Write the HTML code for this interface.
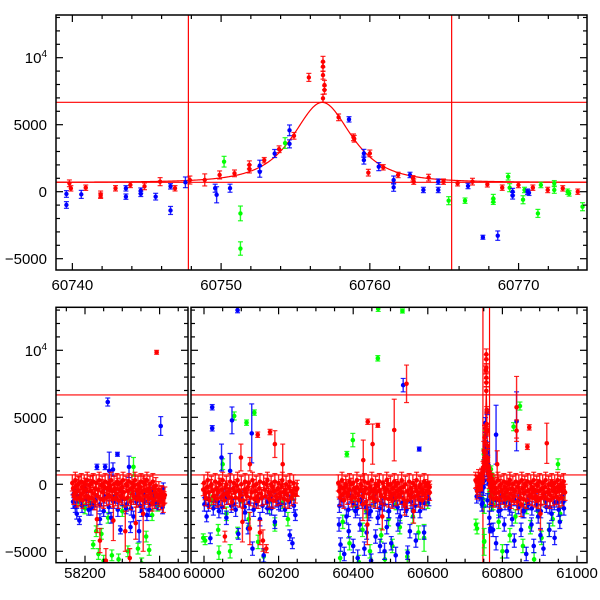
<!DOCTYPE html>
<html><head><meta charset="utf-8">
<style>
html,body{margin:0;padding:0;background:#fff;}
svg{display:block;font-family:"Liberation Sans",Arial,sans-serif;}
</style></head>
<body>
<svg id="chart" width="600" height="600" viewBox="0 0 600 600" xmlns="http://www.w3.org/2000/svg">
<defs>
<clipPath id="clipT"><rect x="56" y="15" width="531" height="255"/></clipPath>
<clipPath id="clipA"><rect x="56" y="307.3" width="132" height="255.4"/></clipPath>
<clipPath id="clipB"><rect x="191" y="307.3" width="396" height="255.4"/></clipPath>
</defs>
<g id="marksT" clip-path="url(#clipT)"></g>
<g id="marksA" clip-path="url(#clipA)"></g>
<g id="marksB" clip-path="url(#clipB)"></g>
<g id="axes"></g>
</svg>
<script>
// ---- data: [mjd, flux, err] ----
const topRed = [[60739.8,627,250],[60739.9,250,200],[60740.9,298,200],[60741.9,-200,250],[60741.9,-300,200],[60742.9,254,200],[60743.9,508,200],[60744.85,400,250],[60745.9,750,300],[60746.9,254,200],[60747.9,870,300],[60748.9,880,450],[60749.9,1250,300],[60750.9,1370,250],[60751.9,1700,300],[60751.9,2000,300],[60752.9,2350,200],[60753.9,3170,250],[60754.9,4170,250],[60755.9,8530,300],[60756.85,9700,400],[60756.85,9330,350],[60756.85,8700,300],[60756.95,7960,350],[60756.95,7590,300],[60756.85,6970,300],[60757.9,5550,250],[60758.9,4060,250],[60758.95,3950,250],[60760.0,2860,250],[60759.9,1420,250],[60760.9,1820,200],[60761.9,1250,200],[60762.9,1000,200],[60762.95,750,200],[60763.95,1050,250],[60764.95,750,200],[60765.9,630,200],[60766.9,750,250],[60767.9,550,200],[60768.9,300,200],[60769.99,500,200],[60770.96,300,200],[60771.96,130,200],[60772.97,250,200],[60773.98,0,200]];
const topBlue = [[60739.6,-170,250],[60739.6,-990,250],[60740.6,-200,300],[60743.6,250,200],[60743.6,-370,200],[60744.6,80,200],[60744.6,-160,200],[60745.6,-370,250],[60746.6,-1400,300],[60746.6,400,200],[60747.6,700,400],[60749.6,260,300],[60749.7,-230,600],[60750.6,260,300],[60752.6,1950,400],[60752.6,1480,400],[60753.6,2850,300],[60754.6,3570,300],[60754.6,4580,400],[60758.6,5400,200],[60759.6,2860,300],[60759.6,2360,300],[60760.6,1870,300],[60761.6,870,300],[60761.6,330,300],[60762.7,1250,200],[60763.6,130,200],[60764.6,750,200],[60764.6,130,200],[60766.6,425,200],[60767.6,-3400,150],[60768.6,-3280,350],[60769.6,0,250],[60769.6,-300,250],[60770.6,0,200],[60770.7,-80,200]];
const topGreen = [[60750.2,2240,400],[60751.3,-1620,550],[60751.3,-4240,500],[60754.3,3630,400],[60765.3,-670,300],[60766.4,-670,200],[60768.3,-500,300],[60768.3,-750,200],[60769.3,1120,250],[60769.4,300,300],[60770.3,-600,300],[60770.4,130,200],[60771.3,-1620,300],[60771.5,500,200],[60772.4,630,200],[60772.4,130,250],[60773.3,0,200],[60773.4,-130,200],[60774.3,-1120,300]];

const botRed = [
[58168,-300,450],[58172,-700,450],[58176,-100,450],[58180,-500,450],[58184,100,450],[58188,-800,450],[58192,-200,450],[58196,-600,450],[58200,0,450],[58204,-400,450],[58208,-900,450],[58212,-100,450],[58216,-500,450],[58220,200,450],[58224,-700,450],[58228,-300,450],[58232,-2600,1000],[58236,-400,450],[58240,-4200,900],[58244,-100,450],[58248,-600,450],[58252,-200,450],[58256,-5700,900],[58260,-300,450],[58264,-800,450],[58268,-100,450],[58272,-500,450],[58276,-2700,1500],[58280,-300,450],[58284,-700,450],[58288,0,450],[58292,-400,450],[58296,-900,450],[58300,-200,450],[58304,-600,450],[58308,-3500,1500],[58312,-100,450],[58316,-500,450],[58320,-5500,700],[58324,-300,450],[58328,-700,450],[58332,-100,450],[58336,-2900,1200],[58340,-400,450],[58344,-800,450],[58348,-200,450],[58352,-600,450],[58356,-2200,2800],[58360,0,450],[58364,-500,450],[58368,-900,450],[58372,-300,450],[58376,-700,450],[58380,-1400,600],[58384,-200,450],[58388,-600,450],[58392,9850,150],[58396,-800,450],[58400,-1200,450],[58404,-600,450],[58408,-900,450],[58412,-1000,450],
[59998,-400,450],[60003,-700,450],[60008,-200,450],[60013,-600,450],[60018,-100,450],[60023,-500,450],[60028,-900,450],[60033,-300,450],[60038,-600,450],[60043,0,450],[60048,-400,450],[60053,-800,450],[60056,-3900,400],[60058,-200,450],[60063,-700,450],[60068,-500,450],[60073,-1000,450],[60078,-300,450],[60083,-600,450],[60088,-100,450],[60093,-500,450],[60098,-800,450],[60099,2000,1000],[60103,-2800,1500],[60108,-400,450],[60113,-700,450],[60118,-200,450],[60123,1500,500],[60123,-3300,1200],[60128,-600,450],[60133,-100,450],[60138,-500,450],[60143,-900,450],[60144,3700,200],[60148,-300,450],[60150,-3600,900],[60153,-700,450],[60158,-4200,800],[60163,-400,450],[60167,-4800,300],[60168,0,450],[60173,-600,450],[60177,3900,200],[60178,-800,450],[60183,-200,450],[60188,-500,450],[60190,3000,1000],[60193,-900,450],[60198,-300,450],[60203,-700,450],[60208,-100,450],[60211,1500,1500],[60213,-600,450],[60218,-400,450],[60223,-800,450],[60228,-200,450],[60233,-500,450],[60238,-700,450],[60243,-300,450],[60248,-400,450],
[60362,-500,450],[60366,-200,450],[60370,-800,450],[60374,-300,450],[60378,-600,450],[60382,-100,450],[60386,-700,450],[60390,-400,450],[60394,0,450],[60398,-900,450],[60402,-300,450],[60406,-600,450],[60410,-200,450],[60414,-800,450],[60418,-400,450],[60422,-100,450],[60426,-1500,1200],[60427,1800,1500],[60430,-600,450],[60434,-300,450],[60438,-3000,1500],[60439,4670,200],[60442,-700,450],[60446,-200,450],[60450,-500,450],[60452,3000,1500],[60454,-900,450],[60458,-300,450],[60462,-600,450],[60466,4400,150],[60466,-100,450],[60470,-500,450],[60474,-800,450],[60478,-2400,1000],[60482,-200,450],[60486,-700,450],[60490,-400,450],[60494,0,450],[60498,-600,450],[60502,-900,450],[60506,-300,450],[60510,4050,2300],[60510,-700,450],[60514,-100,450],[60518,-500,450],[60522,-800,450],[60526,-300,450],[60530,-600,450],[60534,-200,450],[60538,-1500,800],[60543,7500,1400],[60546,-500,450],[60550,-800,450],[60554,-300,450],[60558,-600,450],[60562,-2000,900],[60566,-100,450],[60570,-500,450],[60574,-800,450],[60578,-200,450],[60582,-600,450],[60586,-400,450],[60590,-700,450],[60594,-100,450],[60598,-500,450],[60602,-300,450],[60605,-200,450],
[60730,200,450],[60734,-300,450],[60738,400,450],[60742,100,450],[60746,500,450],[60748,1200,500],[60750,2500,700],[60752,3500,900],[60753,1500,500],[60758,4500,900],[60760,2000,600],[60762,800,450],[60766,-100,450],[60770,-500,450],[60774,-200,450],[60778,-700,450],[60782,-300,450],[60786,1500,1000],[60790,-600,450],[60794,-100,450],[60798,-500,450],[60802,-800,450],[60806,-200,450],[60810,-600,450],[60814,-400,450],[60818,0,450],[60822,-700,450],[60826,-300,450],[60830,-900,450],[60834,-500,450],[60838,5750,2300],[60838,4000,800],[60842,-200,450],[60846,-600,450],[60850,-1500,900],[60854,-300,450],[60858,-700,450],[60862,-100,450],[60867,2800,200],[60868,-500,450],[60872,4250,200],[60874,-800,450],[60878,-200,450],[60882,-600,450],[60886,-400,450],[60890,-900,450],[60894,-100,450],[60898,-500,450],[60902,-2200,1200],[60906,-300,450],[60910,-700,450],[60914,-200,450],[60919,3060,1500],[60920,-600,450],[60924,-400,450],[60928,-800,450],[60932,-100,450],[60936,-500,450],[60940,-300,450],[60944,-600,450],[60948,-200,450],[60952,-400,450],[60956,-100,450],[60960,-300,450],[60964,-200,450]
];
// second (denser) red band measurements
const botRed2 = [
[58166,100,600],[58170,-900,600],[58174,300,600],[58178,-1100,600],[58182,0,600],[58186,-1000,600],[58190,200,600],[58194,-1200,600],[58198,100,600],[58202,-900,600],[58206,300,600],[58210,-1100,600],[58214,0,600],[58218,-1000,600],[58222,200,600],[58226,-1300,600],[58230,100,600],[58234,-900,600],[58238,300,600],[58242,-1100,600],[58246,0,600],[58250,-1200,600],[58254,200,600],[58258,-1000,600],[58262,100,600],[58266,-900,600],[58270,300,600],[58274,-1100,600],[58278,0,600],[58282,-1000,600],[58286,200,600],[58290,-1200,600],[58294,100,600],[58298,-900,600],[58302,300,600],[58306,-1100,600],[58310,0,600],[58314,-1000,600],[58318,200,600],[58322,-1300,600],[58326,100,600],[58330,-900,600],[58334,300,600],[58338,-1100,600],[58342,0,600],[58346,-1000,600],[58350,200,600],[58354,-1200,600],[58358,100,600],[58362,-900,600],[58366,300,600],[58370,-1100,600],[58374,0,600],[58378,-1000,600],[58382,200,600],[58386,-1200,600],[58390,-100,600],[58394,-900,600],[58398,-400,600],[58402,-1300,600],[58406,-700,600],[58410,-1500,600],[58414,-800,600],
[60000,100,600],[60005,-1000,600],[60010,300,600],[60015,-1200,600],[60020,0,600],[60025,-900,600],[60030,200,600],[60035,-1100,600],[60040,100,600],[60045,-1000,600],[60050,300,600],[60055,-1200,600],[60060,0,600],[60065,-900,600],[60070,200,600],[60075,-1300,600],[60080,100,600],[60085,-1000,600],[60090,300,600],[60095,-1100,600],[60100,0,600],[60105,-1200,600],[60110,200,600],[60115,-900,600],[60120,100,600],[60125,-1000,600],[60130,300,600],[60135,-1100,600],[60140,0,600],[60145,-1200,600],[60150,200,600],[60155,-1000,600],[60160,100,600],[60165,-900,600],[60170,300,600],[60175,-1100,600],[60180,0,600],[60185,-1200,600],[60190,200,600],[60195,-1000,600],[60200,100,600],[60205,-900,600],[60210,300,600],[60215,-1100,600],[60220,0,600],[60225,-1200,600],[60230,200,600],[60235,-1000,600],[60240,100,600],[60245,-800,600],[60250,-300,600],
[60360,100,600],[60365,-1000,600],[60370,300,600],[60375,-1200,600],[60380,0,600],[60385,-900,600],[60390,200,600],[60395,-1100,600],[60400,100,600],[60405,-1000,600],[60410,300,600],[60415,-1200,600],[60420,0,600],[60425,-900,600],[60430,200,600],[60435,-1300,600],[60440,100,600],[60445,-1000,600],[60450,300,600],[60455,-1100,600],[60460,0,600],[60465,-1200,600],[60470,200,600],[60475,-900,600],[60480,100,600],[60485,-1000,600],[60490,300,600],[60495,-1100,600],[60500,0,600],[60505,-1200,600],[60510,200,600],[60515,-1000,600],[60520,100,600],[60525,-900,600],[60530,300,600],[60535,-1100,600],[60540,0,600],[60545,-1200,600],[60550,200,600],[60555,-1000,600],[60560,100,600],[60565,-900,600],[60570,300,600],[60575,-1100,600],[60580,0,600],[60585,-1200,600],[60590,200,600],[60595,-1000,600],[60600,100,600],[60605,-600,600],
[60728,300,600],[60732,-500,600],[60736,500,600],[60740,-300,600],[60744,600,600],[60764,300,600],[60768,-900,600],[60772,200,600],[60776,-1100,600],[60780,100,600],[60784,-1000,600],[60788,300,600],[60792,-1200,600],[60796,0,600],[60800,-900,600],[60804,200,600],[60808,-1100,600],[60812,100,600],[60816,-1000,600],[60820,300,600],[60824,-1200,600],[60828,0,600],[60832,-900,600],[60836,200,600],[60840,-1300,600],[60844,100,600],[60848,-1000,600],[60852,300,600],[60856,-1100,600],[60860,0,600],[60864,-1200,600],[60868,200,600],[60872,-900,600],[60876,100,600],[60880,-1000,600],[60884,300,600],[60888,-1100,600],[60892,0,600],[60896,-1200,600],[60900,200,600],[60904,-1000,600],[60908,100,600],[60912,-900,600],[60916,300,600],[60920,-1100,600],[60924,0,600],[60928,-1200,600],[60932,200,600],[60936,-1000,600],[60940,100,600],[60944,-900,600],[60948,300,600],[60952,-1100,600],[60956,0,600],[60960,-1000,600],[60964,200,600],[60968,-600,600]
];
const botBlue = [
[58170,-700,300],[58174,-1700,400],[58178,-2200,400],[58185,-2700,300],[58190,-1200,400],[58200,-300,300],[58210,-1900,400],[58222,-1500,400],[58232,1300,200],[58240,-2600,400],[58250,-2000,400],[58254,1300,200],[58261,6140,300],[58265,1000,1400],[58270,-2500,400],[58275,1100,500],[58283,-1000,400],[58287,2240,150],[58295,-3400,300],[58300,-600,400],[58310,-1800,400],[58318,1300,800],[58322,-3200,400],[58330,-2400,400],[58338,-1300,400],[58345,-3500,800],[58352,-2000,400],[58360,-800,400],[58366,-2300,400],[58374,-1500,400],[58380,-600,400],[58390,-1400,400],[58403,4350,700],[58406,-1000,400],[58410,-300,400],
[60003,-1000,400],[60007,-2400,400],[60012,-1600,400],[60017,-4030,400],[60022,5750,200],[60022,4180,200],[60030,-1200,400],[60040,-2000,500],[60047,2000,1000],[60052,-800,400],[60060,-2500,500],[60070,1000,1300],[60075,4770,1000],[60080,-1500,400],[60090,13000,200],[60092,-3700,400],[60100,-900,400],[60110,-2100,600],[60118,-3300,400],[60128,3800,2200],[60130,-4800,500],[60140,-1400,400],[60150,-2600,500],[60160,-5300,500],[60170,-1800,400],[60180,-900,400],[60190,-2800,500],[60200,-1500,400],[60215,-1100,400],[60230,-3800,400],[60237,-4400,400],[60245,-2300,400],
[60362,-3000,500],[60366,-4500,500],[60370,-1200,400],[60376,-5200,500],[60382,-2400,500],[60388,-3500,500],[60394,-900,400],[60400,-4600,500],[60406,-2000,500],[60412,-5500,600],[60418,-3000,500],[60424,-1400,400],[60430,-4800,500],[60436,-3600,500],[60442,-2200,500],[60448,-5700,500],[60454,-1000,400],[60460,-3900,500],[60466,-2500,500],[60472,-4600,500],[60478,-1500,400],[60484,-5000,600],[60490,-3200,500],[60496,-2000,500],[60502,-4400,500],[60508,-1200,400],[60514,-5300,600],[60520,-3000,500],[60526,-2400,500],[60534,7400,500],[60540,-1700,400],[60546,-5100,500],[60552,-3500,500],[60560,-2000,500],[60568,-4200,500],[60577,2630,150],[60580,-1300,400],[60590,-3600,500],[60600,-1000,400],
[60740,-500,400],[60745,-1500,500],[60760,-1200,500],[60765,-2500,500],[60775,-3400,500],[60783,3700,2200],[60783,-4400,500],[60790,-2000,500],[60797,-900,400],[60805,-3000,500],[60812,-5000,500],[60820,-1600,400],[60826,-2600,500],[60832,-4200,500],[60838,4700,2200],[60842,-1200,400],[60850,-3400,500],[60858,-2000,500],[60864,-5200,500],[60870,-1500,400],[60878,-3000,500],[60884,-4600,500],[60890,-1100,400],[60896,-2400,500],[60902,-3800,500],[60910,-4800,500],[60918,-1700,400],[60926,-3400,500],[60932,-2200,500],[60940,-4000,500],[60946,-1300,400],[60954,-2800,500],[60960,-900,400],[60965,-1800,500]
];
// blue measurements in the dense band
const botBlue2 = [
[58168,-1300,500],[58180,-900,500],[58192,-1600,500],[58204,-1100,500],[58216,-1800,500],[58228,-1200,500],[58240,-1500,500],[58252,-900,500],[58264,-1700,500],[58276,-1300,500],[58288,-1900,500],[58300,-1100,500],[58312,-1500,500],[58324,-1800,500],[58336,-1000,500],[58348,-1600,500],[58360,-1300,500],[58372,-1900,500],[58384,-1100,500],[58396,-1400,500],[58408,-1700,500],
[60001,-1500,500],[60013,-1100,500],[60025,-1800,500],[60037,-1300,500],[60049,-1700,500],[60061,-1000,500],[60073,-1600,500],[60085,-1900,500],[60097,-1200,500],[60109,-1700,500],[60121,-1400,500],[60133,-1900,500],[60145,-1100,500],[60157,-1600,500],[60169,-1300,500],[60181,-1800,500],[60193,-1200,500],[60205,-1500,500],[60217,-1900,500],[60229,-1300,500],[60241,-1600,500],
[60363,-1600,500],[60375,-1200,500],[60387,-1900,500],[60399,-1400,500],[60411,-1800,500],[60423,-1100,500],[60435,-1700,500],[60447,-2000,500],[60459,-1300,500],[60471,-1800,500],[60483,-1500,500],[60495,-2000,500],[60507,-1200,500],[60519,-1700,500],[60531,-1400,500],[60543,-1900,500],[60555,-1300,500],[60567,-1600,500],[60579,-2000,500],[60591,-1400,500],[60603,-1100,500],
[60731,-900,500],[60771,-1500,500],[60783,-1200,500],[60795,-1900,500],[60807,-1400,500],[60819,-1800,500],[60831,-1100,500],[60843,-1700,500],[60855,-2000,500],[60867,-1300,500],[60879,-1800,500],[60891,-1500,500],[60903,-2000,500],[60915,-1200,500],[60927,-1700,500],[60939,-1400,500],[60951,-1900,500],[60963,-1300,500]
];
const botGreen = [
[58182,-1200,400],[58200,-1800,400],[58215,-1400,400],[58222,-4500,300],[58230,-3500,400],[58236,-5200,400],[58244,-3700,400],[58250,-5700,400],[58262,-2500,400],[58272,-5300,400],[58280,-1000,400],[58290,-5600,400],[58300,-2000,400],[58315,-5000,400],[58322,-1200,600],[58330,1300,700],[58342,-4800,400],[58352,-5900,400],[58364,-3900,400],[58372,-4900,400],[58380,-2300,400],[58388,-800,400],[58395,-1600,400],
[59998,-4000,300],[60003,-4200,300],[60020,-1200,400],[60038,-3400,400],[60040,-5100,500],[60050,1500,400],[60060,-2200,500],[60070,-5000,500],[60081,5100,300],[60090,-3600,400],[60100,-1000,400],[60114,4600,200],[60120,-2600,500],[60135,5350,200],[60145,-4300,500],[60160,-5400,500],[60175,-1800,400],[60190,-3000,500],[60210,-1400,400],[60225,-2600,500],[60240,-800,400],
[60365,-5500,500],[60372,-2800,500],[60383,2250,200],[60390,-4400,500],[60399,3300,500],[60405,-1600,400],[60415,-5800,500],[60425,-3400,500],[60435,-2000,500],[60445,-5000,500],[60455,-1200,400],[60466,9400,200],[60467,13100,200],[60475,-3800,500],[60485,-5600,500],[60495,-2600,500],[60505,-4600,500],[60515,-1500,400],[60525,-3200,500],[60532,12930,150],[60545,-5400,500],[60560,-2400,500],[60575,-3600,500],[60590,-4000,1000],[60600,-1400,400],
[60729,-3000,400],[60732,-3300,400],[60745,-1000,500],[60751,-4300,1000],[60775,-1500,400],[60790,-2800,500],[60800,-5000,500],[60810,-1200,400],[60820,-3800,500],[60830,4300,300],[60835,-2400,500],[60847,5840,300],[60855,-4600,500],[60865,-1800,400],[60875,-3200,500],[60885,-5600,500],[60895,-2000,500],[60905,-4000,500],[60915,-1300,400],[60925,-3400,500],[60935,-2600,500],[60949,1500,400],[60955,-2200,500],[60962,-1000,400]
];
// model (Paczynski) parameters
const model = {t0:60756.8, tE:2.5, u0:1.0, base:700, amp:17460};
const hLines = [6670, 700];
const vLines = [60747.8, 60765.5];
const topXTicks = [60740, 60750, 60760, 60770];
const botXTicksA = [58200, 58400];
const botXTicksB = [60000, 60200, 60400, 60600, 60800, 61000];
const yTicks = [-5000, 0, 5000, 10000];

// ---- scales ----
const xT = m => 56 + (m - 60738.9) * (531 / 35.7);
const yT = f => 191.7 - f * 0.0134;
const xA = m => 85 + (m - 58200) * 0.373;
const xB = m => 204 + (m - 60000) * 0.373;
const yB = f => 484.3 - f * 0.0134;
const NS = "http://www.w3.org/2000/svg";
const COL = {red:"#ff0000", blue:"#0000ff", green:"#00ff00"};

function mk(tag, attrs, parent){
  const e = document.createElementNS(NS, tag);
  for (const k in attrs) e.setAttribute(k, attrs[k]);
  parent.appendChild(e);
  return e;
}
function modelFlux(t){
  const tau = (t - model.t0) / model.tE;
  const u = Math.sqrt(model.u0*model.u0 + tau*tau);
  const A = (u*u + 2) / (u * Math.sqrt(u*u + 4));
  return model.base + model.amp * (A - 1);
}
function drawPoints(g, data, color, xs, ys, name, r){
  r = r || 2.3;
  data.forEach(d => {
    const grp = mk("g", {}, g);
    
    
    const x = xs(d[0]), y = ys(d[1]), y1 = ys(d[1]+d[2]), y2 = ys(d[1]-d[2]);
    mk("line", {x1:x, x2:x, y1:y1, y2:y2, stroke:color, "stroke-width":1.4, "stroke-opacity":0.85}, grp);
    mk("line", {x1:x-2.5, x2:x+2.5, y1:y1, y2:y1, stroke:color, "stroke-width":1.2, "stroke-opacity":0.85}, grp);
    mk("line", {x1:x-2.5, x2:x+2.5, y1:y2, y2:y2, stroke:color, "stroke-width":1.2, "stroke-opacity":0.85}, grp);
    mk("circle", {cx:x, cy:y, r:r, fill:color}, grp);
  });
}
function drawModel(g, xs, ys, m0, m1){
  let d = "";
  for (let t = m0; t <= m1; t += 0.05) d += (d ? "L" : "M") + xs(t).toFixed(2) + "," + ys(modelFlux(t)).toFixed(2);
  const p = mk("path", {d:d, fill:"none", stroke:"#ff0000", "stroke-width":1.2}, g);
  
  
}
function drawRefLines(g, xs, ys, x0, x1, yTop, yBot, withV){
  hLines.forEach(h => {
    const l = mk("line", {x1:x0, x2:x1, y1:ys(h), y2:ys(h), stroke:"#ff0000", "stroke-width":1.2}, g);
    
    
  });
  if (withV) vLines.forEach(v => {
    const l = mk("line", {x1:xs(v), x2:xs(v), y1:yTop, y2:yBot, stroke:"#ff0000", "stroke-width":1.2}, g);
    
    
  });
}

// ---- top panel ----
const gT = document.getElementById("marksT");
drawRefLines(gT, xT, yT, 56, 587, 15, 270, true);
drawModel(gT, xT, yT, 60738.9, 60774.6);
drawPoints(gT, topGreen, COL.green, xT, yT, 'point-green', 2.2);
drawPoints(gT, topBlue, COL.blue, xT, yT, 'point-blue', 2.2);
drawPoints(gT, topRed, COL.red, xT, yT, 'point-red', 2.2);

// ---- bottom panels ----
const gA = document.getElementById("marksA");
const gB = document.getElementById("marksB");
drawRefLines(gA, xA, yB, 56, 188, 307, 563, false);
drawRefLines(gB, xB, yB, 191, 587, 307, 563, true);
drawModel(gB, xB, yB, 60738.9, 60774.6);
const allGreen = botGreen.concat(topGreen);
const allBlue = botBlue2.concat(botBlue, topBlue);
const allRed = botRed2.concat(botRed, topRed);
drawPoints(gA, allGreen.filter(d=>d[0]<59000), COL.green, xA, yB, 'point-green');
drawPoints(gA, allBlue.filter(d=>d[0]<59000), COL.blue, xA, yB, 'point-blue');
drawPoints(gA, allRed.filter(d=>d[0]<59000), COL.red, xA, yB, 'point-red');
drawPoints(gB, allGreen.filter(d=>d[0]>59000), COL.green, xB, yB, 'point-green');
drawPoints(gB, allBlue.filter(d=>d[0]>59000), COL.blue, xB, yB, 'point-blue');
drawPoints(gB, allRed.filter(d=>d[0]>59000), COL.red, xB, yB, 'point-red');

// ---- axes ----
const ax = document.getElementById("axes");
function frame(x0, y0, x1, y1, name){
  const r = mk("rect", {x:x0, y:y0, width:x1-x0, height:y1-y0, fill:"none", stroke:"#000", "stroke-width":1.5}, ax);
  
  
}
function yAxis(x0, x1, ys, yTop, yBot, labels){
  for (let f = -6000; f <= 14000; f += 1000){
    const y = ys(f); if (y < yTop + 1 || y > yBot - 1) continue;
    const len = (f % 5000 === 0) ? 7 : 4;
    mk("line", {x1:x0, x2:x0+len, y1:y, y2:y, stroke:"#000", "stroke-width":1.2}, ax);
    mk("line", {x1:x1, x2:x1-len, y1:y, y2:y, stroke:"#000", "stroke-width":1.2}, ax);
  }
  if (labels) yTicks.forEach(f => {
    const t = mk("text", {x:47, y:ys(f)+5.5, "text-anchor":"end", "font-size":15, fill:"#000"}, ax);
    
    
    if (f === 10000){
      t.textContent = "10";
      const s = document.createElementNS(NS, "tspan");
      s.setAttribute("font-size", 10); s.setAttribute("dy", -6);
      s.textContent = "4"; t.appendChild(s);
    } else t.textContent = f < 0 ? "\u2212" + Math.abs(f) : String(f);
  });
}
function xAxis(xs, m0, m1, minor, major, y0, y1, x0, x1, labels, ly){
  for (let m = Math.ceil(m0/minor)*minor; m <= m1; m += minor){
    const x = xs(m); if (x < x0 + 1 || x > x1 - 1) continue;
    const len = (Math.abs(m % major) < 1e-6) ? 7 : 4;
    mk("line", {x1:x, x2:x, y1:y1, y2:y1-len, stroke:"#000", "stroke-width":1.2}, ax);
    mk("line", {x1:x, x2:x, y1:y0, y2:y0+len, stroke:"#000", "stroke-width":1.2}, ax);
  }
  labels.forEach(m => {
    const t = mk("text", {x:xs(m), y:ly, "text-anchor":"middle", "font-size":15, fill:"#000"}, ax);
    
    
    t.textContent = String(m);
  });
}
frame(56, 15, 587, 270, 'top-panel-frame');
yAxis(56, 587, yT, 15, 270, true);
xAxis(xT, 60738, 60776, 2, 10, 15, 270, 56, 587, topXTicks, 290);
frame(56, 307.3, 188, 562.7, 'bottom-left-frame');
frame(191, 307.3, 587, 562.7, 'bottom-right-frame');
yAxis(56, 188, yB, 307.3, 562.7, true);
yAxis(191, 587, yB, 307.3, 562.7, false);
xAxis(xA, 58100, 58500, 50, 200, 307.3, 562.7, 56, 188, botXTicksA, 578);
xAxis(xB, 59950, 61050, 50, 200, 307.3, 562.7, 191, 587, botXTicksB, 578);
</script>
</body></html>
